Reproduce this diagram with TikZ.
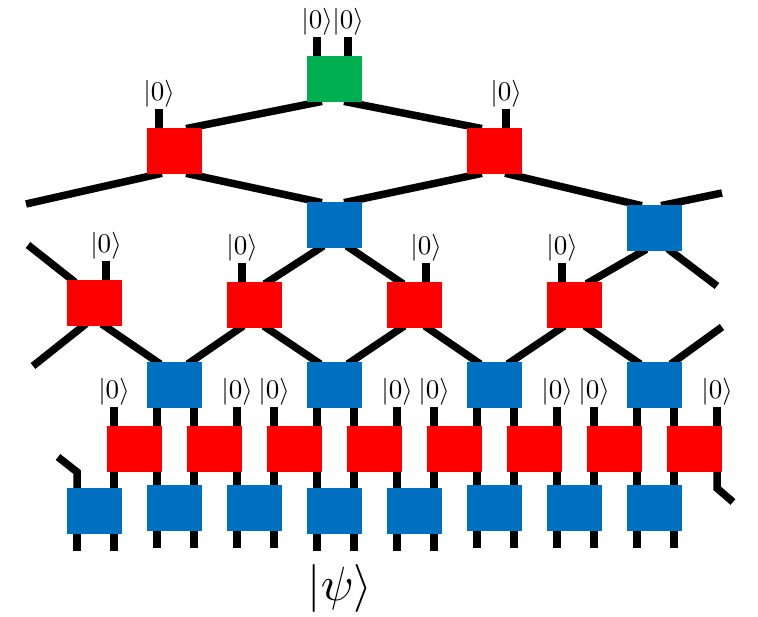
\documentclass[tikz,border=0pt]{standalone}
\usetikzlibrary{backgrounds}

\definecolor{isored}{RGB}{255,0,0}
\definecolor{disblue}{RGB}{0,112,192}
\definecolor{topgreen}{RGB}{0,176,80}

\begin{document}
\begin{tikzpicture}[x=1pt,y=1pt,
    box/.style={shape=rectangle, minimum width=55pt, minimum height=46pt, inner sep=0pt},
    iso/.style={box, fill=isored},
    dis/.style={box, fill=disblue},
    bond/.style={line width=7.5pt, shorten <=-4pt, shorten >=-4pt},
    freebond/.style={line width=7.5pt, shorten <=-4pt},
    leg/.style={line width=7.5pt},
    ket/.style={anchor=south, inner sep=0.4pt, outer sep=0pt, scale=2.7, transform shape}]
                \useasboundingbox (0,0) rectangle (758,617);

                % top tensor and isometries / disentanglers, layer by layer
                \node[box, fill=topgreen] (top) at (334,538) {};
                \node[iso] (w1a) at (174,466) {};
                \node[iso] (w1b) at (494,466) {};
                \node[dis] (u2a) at (334,392) {};
                \node[dis] (u2b) at (654,389) {};
                \node[iso] (w3a) at (94,314) {};
                \node[iso] (w3b) at (254,312) {};
                \node[iso] (w3c) at (414,312) {};
                \node[iso] (w3d) at (574,312) {};
                \node[dis] (u4a) at (174,232) {};
                \node[dis] (u4b) at (334,232) {};
                \node[dis] (u4c) at (494,232) {};
                \node[dis] (u4d) at (654,232) {};
                \node[iso] (w5a) at (134,168) {};
                \node[iso] (w5b) at (214,168) {};
                \node[iso] (w5c) at (294,168) {};
                \node[iso] (w5d) at (374,168) {};
                \node[iso] (w5e) at (454,168) {};
                \node[iso] (w5f) at (534,168) {};
                \node[iso] (w5g) at (614,168) {};
                \node[iso] (w5h) at (694,168) {};
                \node[dis] (u6a) at (94,106) {};
                \node[dis] (u6b) at (174,109) {};
                \node[dis] (u6c) at (254,109) {};
                \node[dis] (u6d) at (334,106) {};
                \node[dis] (u6e) at (414,106) {};
                \node[dis] (u6f) at (494,109) {};
                \node[dis] (u6g) at (574,109) {};
                \node[dis] (u6h) at (654,109) {};

                \node[scale=4.8, transform shape] (psi) at (340,28) {$|\psi\rangle$};

                % open ends (periodic boundary)
                \coordinate (e1) at (26,413);
                \coordinate (e2) at (722,424);
                \coordinate (e3) at (717,331);
                \coordinate (e4) at (28,372);
                \coordinate (e5) at (33,251);
                \coordinate (e6) at (722,290);
                \coordinate (e7) at (58,160);
                \coordinate (e8) at (733,115);

                \begin{pgfonlayer}{background}
                \draw[leg] ([xshift=-17pt]top.north) -- ++(0,19) node[ket] (k0a) {$|0\rangle$};
                \draw[leg] ([xshift=14pt]top.north) -- ++(0,19) node[ket] (k0b) {$|0\rangle$};
                \draw[bond] ([xshift=-16pt]top.south) -- ([xshift=16pt]w1a.north);
                \draw[bond] ([xshift=14pt]top.south) -- ([xshift=-16pt]w1b.north);

                \draw[leg] ([xshift=-15pt]w1a.north) -- ++(0,19) node[ket] (k1a) {$|0\rangle$};
                \draw[leg] ([xshift=12pt]w1b.north) -- ++(0,19) node[ket] (k1b) {$|0\rangle$};
                \draw[freebond] ([xshift=-16pt]w1a.south) -- (e1);
                \draw[bond] ([xshift=16pt]w1a.south) -- ([xshift=-16pt]u2a.north);
                \draw[bond] ([xshift=-16pt]w1b.south) -- ([xshift=14pt]u2a.north);
                \draw[bond] ([xshift=15pt]w1b.south) -- ([xshift=-16pt]u2b.north);
                \draw[freebond] ([xshift=11pt]u2b.north) -- (e2);

                \draw[bond] ([xshift=-14pt]u2a.south) -- ([xshift=14pt]w3b.north);
                \draw[bond] ([xshift=16pt]u2a.south) -- ([xshift=-14pt]w3c.north);
                \draw[bond] ([xshift=-11pt]u2b.south) -- ([xshift=16pt]w3d.north);
                \draw[freebond] ([xshift=17pt]u2b.south) -- (e3);
                \draw[freebond] ([xshift=-22pt]w3a.north) -- (e4);

                \draw[leg] ([xshift=12pt]w3a.north) -- ++(0,19) node[ket] (k3a) {$|0\rangle$};
                \draw[leg] ([xshift=-12pt]w3b.north) -- ++(0,19) node[ket] (k3b) {$|0\rangle$};
                \draw[leg] ([xshift=12pt]w3c.north) -- ++(0,19) node[ket] (k3c) {$|0\rangle$};
                \draw[leg] ([xshift=-12pt]w3d.north) -- ++(0,19) node[ket] (k3d) {$|0\rangle$};

                \draw[freebond] ([xshift=-11pt]w3a.south) -- (e5);
                \draw[bond] ([xshift=11pt]w3a.south) -- ([xshift=-17pt]u4a.north);
                \draw[bond] ([xshift=-14pt]w3b.south) -- ([xshift=17pt]u4a.north);
                \draw[bond] ([xshift=13pt]w3b.south) -- ([xshift=-17pt]u4b.north);
                \draw[bond] ([xshift=-13pt]w3c.south) -- ([xshift=17pt]u4b.north);
                \draw[bond] ([xshift=14pt]w3c.south) -- ([xshift=-17pt]u4c.north);
                \draw[bond] ([xshift=-13pt]w3d.south) -- ([xshift=17pt]u4c.north);
                \draw[bond] ([xshift=14pt]w3d.south) -- ([xshift=-17pt]u4d.north);
                \draw[freebond] ([xshift=20pt]u4d.north) -- (e6);

                \draw[leg] ([xshift=-17pt]u4a.south) -- ([xshift=23pt]w5a.north);
                \draw[leg] ([xshift=20pt]u4a.south) -- ([xshift=-20pt]w5b.north);
                \draw[leg] ([xshift=-17pt]u4b.south) -- ([xshift=23pt]w5c.north);
                \draw[leg] ([xshift=20pt]u4b.south) -- ([xshift=-20pt]w5d.north);
                \draw[leg] ([xshift=-17pt]u4c.south) -- ([xshift=23pt]w5e.north);
                \draw[leg] ([xshift=20pt]u4c.south) -- ([xshift=-20pt]w5f.north);
                \draw[leg] ([xshift=-17pt]u4d.south) -- ([xshift=23pt]w5g.north);
                \draw[leg] ([xshift=20pt]u4d.south) -- ([xshift=-20pt]w5h.north);

                \draw[leg] ([xshift=-20pt]w5a.north) -- ++(0,19) node[ket] (k5a) {$|0\rangle$};
                \draw[leg] ([xshift=23pt]w5b.north) -- ++(0,19) node[ket] (k5b) {$|0\rangle$};
                \draw[leg] ([xshift=-20pt]w5c.north) -- ++(0,19) node[ket] (k5c) {$|0\rangle$};
                \draw[leg] ([xshift=23pt]w5d.north) -- ++(0,19) node[ket] (k5d) {$|0\rangle$};
                \draw[leg] ([xshift=-20pt]w5e.north) -- ++(0,19) node[ket] (k5e) {$|0\rangle$};
                \draw[leg] ([xshift=23pt]w5f.north) -- ++(0,19) node[ket] (k5f) {$|0\rangle$};
                \draw[leg] ([xshift=-20pt]w5g.north) -- ++(0,19) node[ket] (k5g) {$|0\rangle$};
                \draw[leg] ([xshift=23pt]w5h.north) -- ++(0,19) node[ket] (k5h) {$|0\rangle$};

                \draw[leg] (e7) -- ++(19,-15) -- ([xshift=-17pt]u6a.north);
                \draw[leg] ([xshift=-20pt]w5a.south) -- ([xshift=20pt]u6a.north);
                \draw[leg] ([xshift=23pt]w5a.south) -- ([xshift=-17pt]u6b.north);
                \draw[leg] ([xshift=-20pt]w5b.south) -- ([xshift=20pt]u6b.north);
                \draw[leg] ([xshift=23pt]w5b.south) -- ([xshift=-17pt]u6c.north);
                \draw[leg] ([xshift=-20pt]w5c.south) -- ([xshift=20pt]u6c.north);
                \draw[leg] ([xshift=23pt]w5c.south) -- ([xshift=-17pt]u6d.north);
                \draw[leg] ([xshift=-20pt]w5d.south) -- ([xshift=20pt]u6d.north);
                \draw[leg] ([xshift=23pt]w5d.south) -- ([xshift=-17pt]u6e.north);
                \draw[leg] ([xshift=-20pt]w5e.south) -- ([xshift=20pt]u6e.north);
                \draw[leg] ([xshift=23pt]w5e.south) -- ([xshift=-17pt]u6f.north);
                \draw[leg] ([xshift=-20pt]w5f.south) -- ([xshift=20pt]u6f.north);
                \draw[leg] ([xshift=23pt]w5f.south) -- ([xshift=-17pt]u6g.north);
                \draw[leg] ([xshift=-20pt]w5g.south) -- ([xshift=20pt]u6g.north);
                \draw[leg] ([xshift=23pt]w5g.south) -- ([xshift=-17pt]u6h.north);
                \draw[leg] ([xshift=-20pt]w5h.south) -- ([xshift=20pt]u6h.north);
                \draw[leg] ([xshift=23pt]w5h.south) -- ++(0,-16) -- (e8);

                % physical legs
                \draw[leg] ([xshift=-17pt]u6a.south) -- ++(0,-17);
                \draw[leg] ([xshift=20pt]u6a.south) -- ++(0,-17);
                \draw[leg] ([xshift=-17pt]u6b.south) -- ++(0,-17);
                \draw[leg] ([xshift=20pt]u6b.south) -- ++(0,-17);
                \draw[leg] ([xshift=-17pt]u6c.south) -- ++(0,-17);
                \draw[leg] ([xshift=20pt]u6c.south) -- ++(0,-17);
                \draw[leg] ([xshift=-17pt]u6d.south) -- ++(0,-17);
                \draw[leg] ([xshift=20pt]u6d.south) -- ++(0,-17);
                \draw[leg] ([xshift=-17pt]u6e.south) -- ++(0,-17);
                \draw[leg] ([xshift=20pt]u6e.south) -- ++(0,-17);
                \draw[leg] ([xshift=-17pt]u6f.south) -- ++(0,-17);
                \draw[leg] ([xshift=20pt]u6f.south) -- ++(0,-17);
                \draw[leg] ([xshift=-17pt]u6g.south) -- ++(0,-17);
                \draw[leg] ([xshift=20pt]u6g.south) -- ++(0,-17);
                \draw[leg] ([xshift=-17pt]u6h.south) -- ++(0,-17);
                \draw[leg] ([xshift=20pt]u6h.south) -- ++(0,-17);
                \end{pgfonlayer}
            \end{tikzpicture}
\end{document}
